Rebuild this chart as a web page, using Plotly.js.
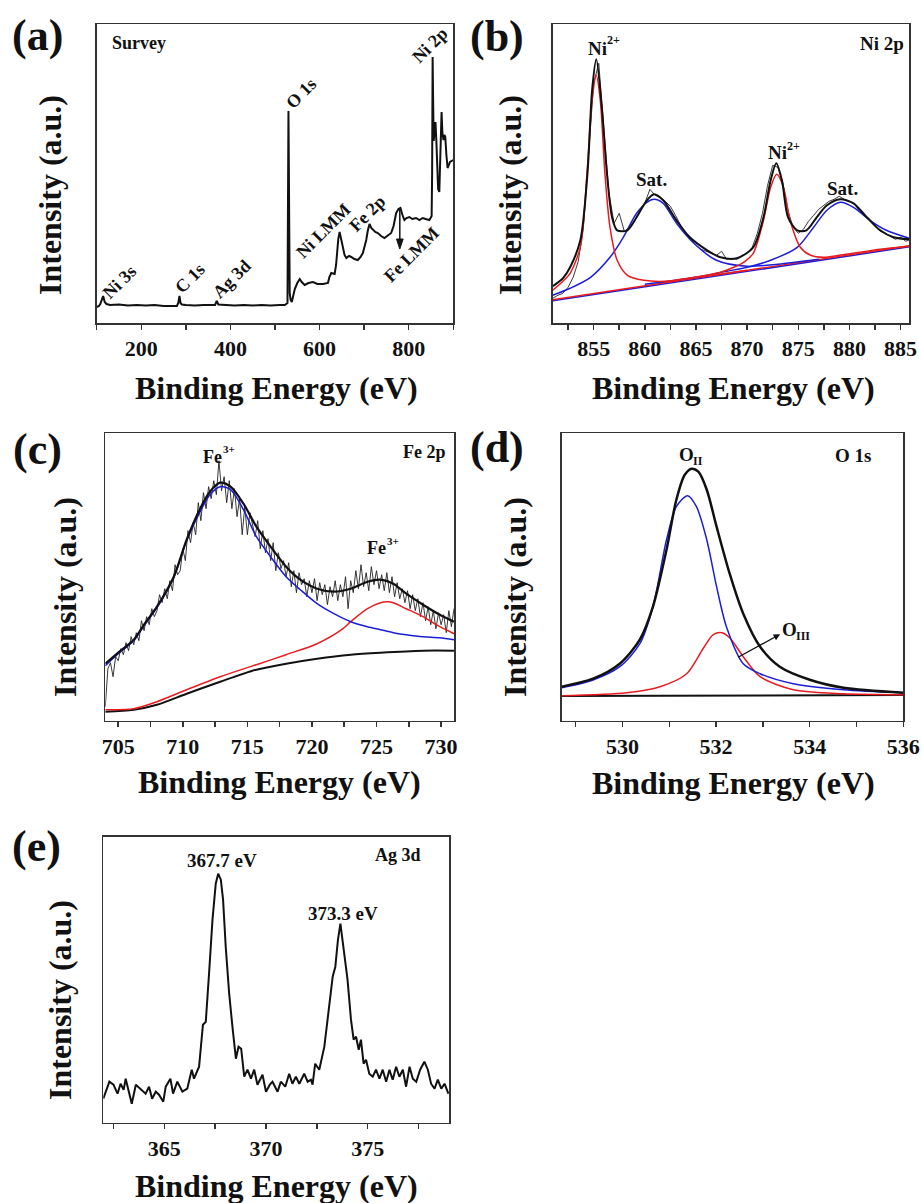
<!DOCTYPE html>
<html>
<head>
<meta charset="utf-8">
<script src="https://cdn.plot.ly/plotly-3.0.1.min.js"></script>
<style>html,body{margin:0;padding:0;background:#fff;}#chart{width:922px;height:1203px;}</style>
</head>
<body>
<div id="chart"></div>
<script>
// ---------- Panel (a) Survey ----------
const surveyX = [100,105,108,111,114.4,118,122,130,150,170,190,210,230,250,270,280,283,285.7,288,291,300,320,340,360,365.5,369.3,373,390,410,430,450,470,490,510,522,528,530.2,533,535,537.7,541,544.4,550,555.5,560,566.7,575,585.3,595,607.7,618.8,622,626.3,633.8,637,639,642,645,648,652.4,656,660,666,671.1,678,685.9,692,697.1,701,704.7,708,712,716,719.5,725,730.7,738,745.6,752,760.6,766,771.8,777,781.4,786,790.3,795,801.5,808,816.5,824,831.3,838,846.2,849,851.4,852.5,853.6,854.8,856,858,860,862,864,866,868.6,870.5,872,873.7,875.5,878,880,882,884.5,887.2,890,892.5,896,900];
const surveyY = [16,17,19,24,27,21,19,18,18.5,17.5,18,17.5,18,17,17.5,17,20,27,20,18.5,18,17.5,18,17.5,18,22,18.5,18,17.5,18,17.5,18,17.5,18,18,20,212,30,23,21,28,34,40,44,41,38,40,41,39,39,40,46,50,49,58,70,84,91,84,76,68,65,67,66,64,63,66,70,76,83,92,99,95,93,91,90,87,85,87,90,97,110,114,115,108,103,105,106,104,105,103,105,104,103,105,107,150,266,220,182,195,201,182,150,134,131,170,205,211,190,183,188,186,168,155,158,161,162,163];

// ---------- Panel (b) Ni 2p ----------
const niEnvX = [851,852,852.7,853.7,854.4,854.85,855.26,855.8,856.3,856.8,857.3,858.3,859.2,860.2,860.9,861.8,863.1,864.4,866.1,867.4,869.0,870.6,871.6,872.3,872.85,873.4,874.0,874.9,875.8,876.8,877.8,879.1,880.4,881.7,883.0,884.3,885.85];
const niEnvY = [37,45,56,83,150,233,264,216,150,106,93,93,106,123,129,123,103,86,73,66,65,76,106,143,160,143,106,93,93,106,118,124,120,106,93,86,84];
const niRawStart = 851, niRawStep = 0.5;
const niRawY = [25,28,30,36,46,62,96,173,240,260,190,130,100,110,92,96,102,112,120,134,128,126,122,117,108,98,90,84,78,74,72,70,68,72,64,65,64,68,70,76,90,110,138,158,156,140,112,96,90,94,102,108,114,118,122,124,127,124,122,119,112,108,104,98,92,90,87,84,86,82,84];
const niRed1X = [851,852,852.7,853.7,854.35,854.85,855.25,855.65,856.1,856.6,857.3,858.3,859.9,862,865,868,870];
const niRed1Y = [33,42,50,76,150,223,248,223,150,96,63,48,43,42,46,50,53];
const niRed2X = [862,866,867.4,868.7,869.8,870.6,871.6,872.3,872.9,873.55,874.2,875.2,876.2,877.5,879,881,883,885.85];
const niRed2Y = [41,48,51,56,62,70,103,136,149,136,103,76,68,66,68,71,74,77];
const niBlue1X = [851,852.7,854.7,856.6,857.9,859.2,860.2,860.9,861.8,863.1,864.8,867,870,873,877];
const niBlue1Y = [28,35,46,66,86,110,121,124,120,100,80,63,57,59,64];
const niBlue2X = [860,865,868,870,872.3,874.9,876.5,877.8,879.1,880.4,882,883.6,885.85];
const niBlue2Y = [39,46,52,56,63,76,96,113,121,116,103,93,85];
const niBaseX = [851,885.85];
const niBaseBlueY = [22.5,76.5];
const niBaseRedY = [23.5,77.5];

// ---------- Panel (c) Fe 2p ----------
const feRawStart = 704, feRawStep = 0.2;
const feRawY = [14,52,58,44,64, 60,72,66,78,70, 84,76,88,80,100, 90,104,96,112,104, 110,126,118,132,122, 140,130,156,146,150, 172,160,190,178,198, 186,218,200,228,212, 234,222,240,226,260, 230,244,218,240,212, 232,204,222,186,214, 186,208,196,184,200, 172,190,168,182,160, 178,150,168,152,160, 144,158,134,150,128, 148,136,142,124,140, 128,142,120,138,126, 136,116,134,124,140, 120,136,124,144,112, 140,128,150,132,156, 134,148,130,154,136, 150,132,146,130,148, 128,144,124,138,122, 132,118,130,112,126, 110,122,104,118,100, 114,96,110,92,108, 96,106,88,110,94, 112];
const feEnvX = [704.0,705,706.2,707,708,709.3,710.3,711.3,712.1,712.9,713.7,714.7,715.7,716.8,718,719.1,720.4,721.7,723,724.3,725.3,726.3,727.3,728.6,729.9,731];
const feEnvY = [57,68,81,96,114,144,181,211,229,238,234,217,194,174,154,141,132,129,132,139,141,137,127,116,106,99];
const feBlueX = [704.0,705,706.2,707,708,709.3,710.3,711.3,712.1,712.9,713.7,714.7,715.7,716.8,718,719.1,720.4,721.7,723,724.3,725.3,726.3,727.3,728.6,729.9,731];
const feBlueY = [55,67,80,95,113,143,180,208,226,234,231,211,184,164,144,131,117,107,99,94,91,88,86,84,83,81];
const feRedX = [704.0,706.2,708,710.3,712.9,715.7,718,720.4,722.3,723,724.3,725.3,725.9,726.3,727.3,728.6,729.9,731];
const feRedY = [11,12,19,31,44,56,66,77,91,99,112,118,119,118,112,104,94,87];
const feBgX = [704.0,706.2,708,710.3,712.9,715.7,718,720.4,723,725.3,728.6,731];
const feBgY = [9,11,16,27,39,51,57,62,66,68,70,70];

// ---------- Panel (d) O 1s ----------
const oEnvX = [528.7,529.37,529.94,530.37,530.65,530.94,531.15,531.33,531.48,531.62,531.8,532.01,532.29,532.58,532.94,533.36,534.0,534.72,536];
const oEnvY = [34,42,57,81,114,171,221,246,252,249,231,194,147,107,74,54,41,33,28];
const oBlueX = [528.7,529.37,529.94,530.37,530.65,530.94,531.15,531.39,531.58,531.8,532.01,532.22,532.58,532.94,533.65,534.72,536];
const oBlueY = [33,40.7,54,77,114,181,214,225,214,181,134,94,57,47,37,31,28];
const oRedX = [528.7,530.09,530.8,531.37,531.72,531.94,532.12,532.29,532.58,532.94,533.65,534.72,536];
const oRedY = [25,28,34,47,72,86,88,83,64,44,31,27,26];
const oBaseX = [528.7,536];
const oBaseY = [24.7,25.7];

// ---------- Panel (e) Ag 3d ----------
const agX = [362.0,362.3,362.5,362.7,362.85,363.0,363.1,363.26,363.4,363.6,363.84,364.08,364.25,364.4,364.58,364.74,364.95,365.07,365.3,365.43,365.64,365.89,366.13,366.35,366.46,366.71,366.9,367.04,367.2,367.37,367.53,367.65,367.78,367.89,368.02,368.19,368.35,368.52,368.65,368.78,368.93,369.09,369.26,369.42,369.58,369.83,370.0,370.19,370.32,370.57,370.73,370.95,371.14,371.3,371.47,371.64,371.88,372.05,372.21,372.29,372.42,372.62,372.87,373.11,373.28,373.41,373.54,373.66,373.8,374.01,374.18,374.31,374.43,374.56,374.67,374.8,374.92,375.08,375.25,375.41,375.58,375.74,375.91,376.07,376.23,376.4,376.56,376.73,376.89,377.06,377.22,377.39,377.58,377.79,377.96,378.12,378.29,378.45,378.62,378.78,378.97];
const agY = [24,41,38,29,39,33,44,31,19,38,33,29,36,24,31,28,21,36,44,29,41,31,34,53,44,56,98,101,149,203,239,249,243,223,176,129,96,64,76,74,46,53,44,53,38,48,31,38,41,31,41,36,49,39,46,39,49,41,43,38,59,53,76,116,146,156,183,199,176,143,103,83,86,73,83,59,63,49,46,53,44,53,41,53,43,56,46,53,36,56,44,41,53,61,53,39,34,43,34,39,29];

// ---------- Tick settings ----------
const tickA = {dtick: 200, tick0: 0, minor: 100, range: [100, 900]};
const tickB = {dtick: 5, tick0: 855, minor: 2.5, range: [851, 885.85]};
const tickC = {dtick: 5, tick0: 705, minor: 2.5, range: [704, 731]};
const tickD = {dtick: 2, tick0: 530, minor: 1, range: [528.7, 536]};
const tickE = {dtick: 5, tick0: 365, minor: 2.5, range: [362, 379]};

const W = 922, H = 1203;
const RED = 'rgb(232,28,32)', BLUE = 'rgb(28,30,215)', BLK = '#111';
const FONT = 'Liberation Serif, Times New Roman, serif';

function xax(t, dom, anchor) {
  return {
    domain: dom, anchor: anchor, range: t.range, autorange: false,
    tickmode: 'linear', tick0: t.tick0, dtick: t.dtick,
    ticks: 'outside', ticklen: 5, tickwidth: 1.5, tickcolor: '#333',
    minor: {dtick: t.minor, tick0: t.tick0, ticks: 'outside', ticklen: 5, tickwidth: 1.5, tickcolor: '#333', showgrid: false},
    showline: true, mirror: true, linecolor: '#333', linewidth: 1.5,
    showgrid: false, zeroline: false, fixedrange: true,
    tickfont: {family: FONT, size: 22, weight: 700, color: '#111'}
  };
}
function yax(rng, dom, anchor) {
  return {
    domain: dom, anchor: anchor, range: rng, autorange: false,
    showticklabels: false, ticks: '', showgrid: false, zeroline: false,
    showline: true, mirror: true, linecolor: '#333', linewidth: 1.5, fixedrange: true
  };
}
const px = v => v / W;
const py = v => 1 - v / H;

function line(x, y, ax, color, width, shape) {
  return {x: x, y: y, xaxis: ax[0], yaxis: ax[1], type: 'scatter', mode: 'lines',
    line: {color: color, width: width, shape: shape || 'linear', smoothing: 0.8},
    showlegend: false, hoverinfo: 'skip'};
}

const traces = [
  line(surveyX, surveyY, ['x', 'y'], BLK, 2),
  // (b)
  {y: niRawY, x0: niRawStart, dx: niRawStep, xaxis: 'x2', yaxis: 'y2', type: 'scatter', mode: 'lines', line: {color: '#222', width: 0.9}, showlegend: false, hoverinfo: 'skip'},
  line(niBaseX, niBaseBlueY, ['x2', 'y2'], BLUE, 1.6),
  line(niBaseX, niBaseRedY, ['x2', 'y2'], RED, 1.4),
  line(niBlue1X, niBlue1Y, ['x2', 'y2'], BLUE, 1.5, 'spline'),
  line(niBlue2X, niBlue2Y, ['x2', 'y2'], BLUE, 1.5, 'spline'),
  line(niRed1X, niRed1Y, ['x2', 'y2'], RED, 1.5, 'spline'),
  line(niRed2X, niRed2Y, ['x2', 'y2'], RED, 1.5, 'spline'),
  line(niEnvX, niEnvY, ['x2', 'y2'], BLK, 2, 'spline'),
  // (c)
  {y: feRawY, x0: feRawStart, dx: feRawStep, xaxis: 'x3', yaxis: 'y3', type: 'scatter', mode: 'lines', line: {color: '#222', width: 0.9}, showlegend: false, hoverinfo: 'skip'},
  line(feBgX, feBgY, ['x3', 'y3'], BLK, 2, 'spline'),
  line(feRedX, feRedY, ['x3', 'y3'], RED, 1.5, 'spline'),
  line(feBlueX, feBlueY, ['x3', 'y3'], BLUE, 1.5, 'spline'),
  line(feEnvX, feEnvY, ['x3', 'y3'], BLK, 2.2, 'spline'),
  // (d)
  line(oBaseX, oBaseY, ['x4', 'y4'], BLK, 2),
  line(oRedX, oRedY, ['x4', 'y4'], RED, 1.5, 'spline'),
  line(oBlueX, oBlueY, ['x4', 'y4'], BLUE, 1.5, 'spline'),
  line(oEnvX, oEnvY, ['x4', 'y4'], BLK, 2.5, 'spline'),
  // (e)
  line(agX, agY, ['x5', 'y5'], BLK, 2)
];

function txt(text, x, y, xr, yr, size, angle) {
  return {text: text, x: x, y: y, xref: xr, yref: yr, showarrow: false,
    textangle: angle || 0, xanchor: 'center', yanchor: 'middle',
    font: {family: FONT, size: size, weight: 700, color: '#111'}};
}
function ptxt(text, cx, cy, size, angle) {
  return txt(text, px(cx), py(cy), 'paper', 'paper', size, angle);
}

// "O" of O_III carries the arrow that points at it (head at the text side)
const oIIIarrow = Object.assign(txt('O', 533.56, 91.5, 'x4', 'y4', 19), {
  showarrow: true, x: 532.47, y: 63.4, ax: 533.56, ay: 91.5, axref: 'x4', ayref: 'y4',
  arrowside: 'start', startarrowhead: 2, startarrowsize: 1, arrowwidth: 1.3, arrowcolor: '#111'
});

const annotations = [
  // panel labels
  ptxt('(a)', 37.5, 35, 44), ptxt('(b)', 496.7, 36, 44), ptxt('(c)', 37.5, 449, 44),
  ptxt('(d)', 497.5, 447, 44), ptxt('(e)', 36.7, 846, 44),
  // y titles
  ptxt('Intensity (a.u.)', 50, 195, 32, -90), ptxt('Intensity (a.u.)', 510, 195, 32, -90),
  ptxt('Intensity (a.u.)', 65, 597, 32, -90), ptxt('Intensity (a.u.)', 515, 597, 32, -90),
  ptxt('Intensity (a.u.)', 60, 1000, 32, -90),
  // x titles
  ptxt('Binding Energy (eV)', 276.7, 388, 32), ptxt('Binding Energy (eV)', 733.3, 388, 32),
  ptxt('Binding Energy (eV)', 279, 782, 32), ptxt('Binding Energy (eV)', 733.3, 783, 32),
  ptxt('Binding Energy (eV)', 276, 1186, 32),
  // (a)
  txt('Survey', 194, 280, 'x', 'y', 18),
  txt('O 1s', 559.4, 229.7, 'x', 'y', 18, -45),
  txt('Ni 2p', 847.8, 278, 'x', 'y', 18, -45),
  txt('Ni 3s', 150.8, 41.3, 'x', 'y', 18, -45),
  txt('C 1s', 309.6, 45, 'x', 'y', 18, -45),
  txt('Ag 3d', 402.8, 44, 'x', 'y', 18, -45),
  txt('Ni LMM', 607.6, 92.3, 'x', 'y', 18, -45),
  txt('Fe 2p', 708.3, 109.7, 'x', 'y', 18, -45),
  txt('Fe LMM', 805.3, 68, 'x', 'y', 18, -45),
  // (b)
  txt('Ni', 855.41, 274.5, 'x2', 'y2', 19),
  txt('2+', 856.9, 283, 'x2', 'y2', 12),
  txt('Sat.', 860.7, 143.3, 'x2', 'y2', 19),
  txt('Ni', 872.99, 170.5, 'x2', 'y2', 19),
  txt('2+', 874.5, 177, 'x2', 'y2', 12),
  txt('Sat.', 879.35, 135, 'x2', 'y2', 19),
  txt('Ni 2p', 883.2, 280, 'x2', 'y2', 19),
  // (c)
  txt('Fe', 712.3, 264, 'x3', 'y3', 18),
  txt('3+', 713.55, 271.5, 'x3', 'y3', 11),
  txt('Fe', 724.98, 172.5, 'x3', 'y3', 18),
  txt('3+', 726.25, 180, 'x3', 'y3', 11),
  txt('Fe 2p', 728.75, 269, 'x3', 'y3', 18),
  // (d)
  txt('O', 531.37, 266.5, 'x4', 'y4', 19),
  txt('II', 531.61, 260, 'x4', 'y4', 12),
  txt('O 1s', 534.92, 265.7, 'x4', 'y4', 19),
  oIIIarrow,
  txt('III', 533.86, 85, 'x4', 'y4', 12),
  // (e)
  txt('367.7 eV', 367.83, 262.7, 'x5', 'y5', 19),
  txt('373.3 eV', 373.77, 209.4, 'x5', 'y5', 19),
  txt('Ag 3d', 376.48, 267.7, 'x5', 'y5', 18)
];

// Fe LMM pointer in panel (a): vertical stem with a filled head
const shapes = [
  {type: 'line', xref: 'x', yref: 'y', x0: 780, y0: 114, x1: 780, y1: 82, line: {color: '#111', width: 1.5}},
  {type: 'path', xref: 'x', yref: 'y', path: 'M 772.5,84 L 787.5,84 L 780,74 Z', fillcolor: '#111', line: {color: '#111', width: 1}}
];

const layout = {
  width: W, height: H, margin: {l: 0, r: 0, t: 0, b: 0},
  paper_bgcolor: '#fff', plot_bgcolor: '#fff', showlegend: false,
  xaxis: xax(tickA, [px(96.7), px(453.3)], 'y'),
  yaxis: yax([0, 299], [py(323), py(24)], 'x'),
  xaxis2: xax(tickB, [px(552.7), px(909.3)], 'y2'),
  yaxis2: yax([0, 299.3], [py(323.3), py(24)], 'x2'),
  xaxis3: xax(tickC, [px(105.3), px(454)], 'y3'),
  yaxis3: yax([0, 287.4], [py(720.7), py(433.3)], 'x3'),
  xaxis4: xax(tickD, [px(561.7), px(903.3)], 'y4'),
  yaxis4: yax([0, 287.4], [py(720.7), py(433.3)], 'x4'),
  xaxis5: xax(tickE, [px(103.3), px(449)], 'y5'),
  yaxis5: yax([0, 286], [py(1122.7), py(836.7)], 'x5'),
  annotations: annotations,
  shapes: shapes
};

Plotly.newPlot('chart', traces, layout, {staticPlot: true, displayModeBar: false});
</script>
</body>
</html>
